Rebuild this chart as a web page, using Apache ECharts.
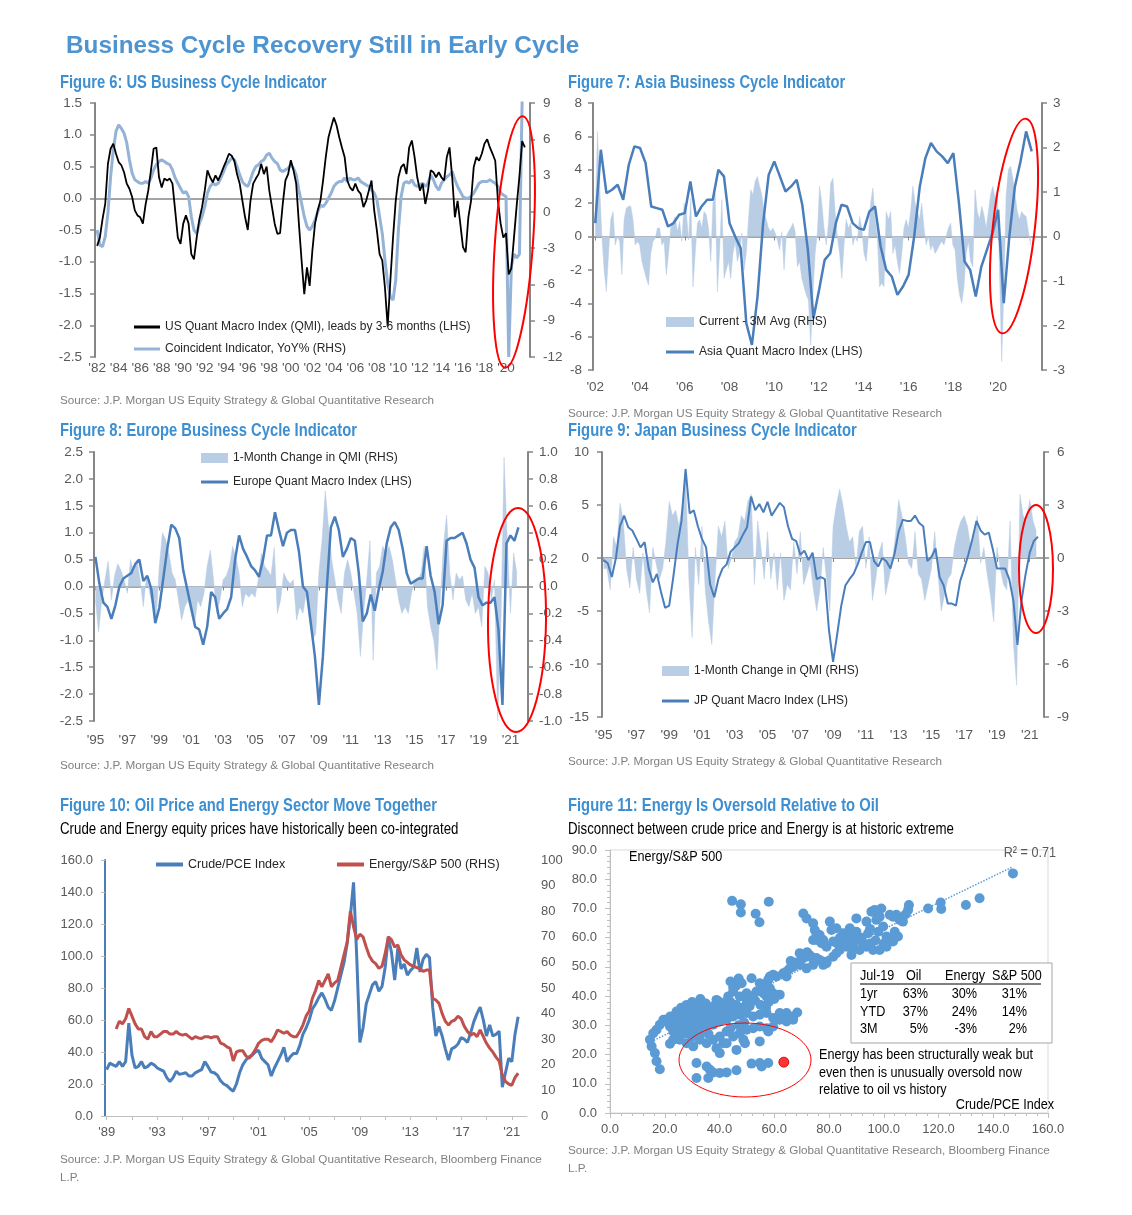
<!DOCTYPE html>
<html><head><meta charset="utf-8">
<script src="https://cdn.jsdelivr.net/npm/echarts/dist/echarts.min.js"></script>
<style>html,body{margin:0;padding:0;background:#fff}#c{width:1132px;height:1215px}</style>
</head><body><div id="c"></div>
<script>
// ---------------- DATA ----------------
// Figure 6 (quarterly from 1982.0)
const usQmi = [
-0.75,-0.62,-0.33,-0.09, 0.54,0.78,0.86,0.70, 0.57,0.52,0.41,0.23, 0.15,0.02,-0.19,-0.27,
-0.30,-0.40,-0.10,0.12, 0.44,0.78,0.80,0.33, 0.17,0.31,0.28,0.31, 0.23,-0.19,-0.62,-0.72,
-0.40,-0.27,-0.40,-0.88, -0.96,-0.62,-0.33,-0.14, 0.12,0.44,0.33,0.25, 0.36,0.28,0.38,0.49,
0.59,0.70,0.67,0.59, 0.38,0.23,-0.04,-0.30, -0.50,-0.04,0.23,0.31, 0.38,0.54,0.38,0.50,
0.12,-0.14,-0.40,-0.56, -0.55,-0.09,0.28,0.38, 0.60,0.44,0.23,-0.40, -0.98,-1.51,-1.09,-1.38,
-0.83,-0.40,-0.19,-0.04, 0.28,0.65,0.96,1.12, 1.27,1.15,0.96,0.80, 0.65,0.28,0.17,0.12,
0.23,0.12,0.07,-0.14, -0.04,0.12,0.28,-0.19, -0.51,-0.88,-0.98,-1.41, -2.02,-1.30,-0.62,-0.04,
0.33,0.49,0.54,0.38, 0.80,0.91,0.65,0.33, 0.12,0.23,-0.09,0.12, 0.44,0.41,0.33,0.41,
0.33,0.28,0.65,0.80, 0.33,-0.30,-0.04,-0.40, -0.77,-0.85,-0.30,-0.04, 0.49,0.65,0.59,0.70,
0.86,0.93,0.80,0.70, 0.59,-0.04,-0.40,-0.62, -0.55,-1.20,-1.10,-0.60, -0.10,0.35,0.90,0.80];
const usCoincident = [
-1.5,-2.74,-2.88,-2.05, -0.1,2.9,5.1,6.65, 7.2,6.9,6.5,5.7, 4.3,3.2,2.65,2.5,
2.37,2.37,2.5,2.37, 2.8,3.47,3.9,4.16, 4.3,4.16,4.0,3.9, 3.47,2.8,2.37,1.95,
1.55,1.68,1.26,-0.4, -1.5,-1.8,-0.95,-0.4, 0.43,1.55,2.1,2.37, 2.23,2.37,2.8,3.33,
3.9,4.16,4.44,4.3, 3.75,3.06,2.5,2.23, 2.1,2.65,3.33,3.75, 3.9,4.16,4.3,4.7,
4.85,4.44,4.16,4.0, 3.47,3.33,3.47,3.6, 3.9,3.6,3.06,1.8, 0.7,-0.4,-1.2,-1.5,
-1.2,-0.67,0.0,0.57, 0.43,0.7,1.12,1.55, 2.1,2.37,2.5,2.5, 2.8,2.5,2.8,2.65,
2.65,2.8,2.5,2.37, 2.23,2.1,1.8,1.55, 1.0,-0.4,-1.8,-4.0, -5.9,-7.0,-7.3,-5.65,
-1.5,1.26,2.37,2.5, 2.37,2.65,2.23,2.1, 2.23,2.37,2.1,2.37, 3.06,2.65,2.1,1.8,
2.37,2.65,2.9,3.06, 3.33,2.65,2.1,1.68, 1.26,1.12,1.12,1.26, 1.55,1.95,2.37,2.5,
2.5,2.5,2.65,2.5, 2.37,2.1,1.55,1.4, 1.26,-12.0,-4.5,-3.5, -3.8,-3.5,9.2];
const usTicks = [1982,1984,1986,1988,1990,1992,1994,1996,1998,2000,2002,2004,2006,2008,2010,2012,2014,2016,2018,2020];

// Figure 7 (line quarterly from 2002.0; fill ~every 0.1y from 2002.0 to 2021.45)
const asiaQmi = [
0.8,5.2,2.6,2.8, 3.1,2.2,4.3,5.4, 5.3,4.4,1.8,1.7, 1.6,0.6,0.8,1.3, 1.4,3.3,1.2,1.8,
2.2,2.2,4.0,3.6, 0.8,0.0,-0.7,-5.2, -6.5,-3.6,0.8,3.7, 4.5,3.6,2.7,3.0, 3.4,1.9,-0.8,-4.9,
-3.2,-1.4,-1.0,0.8, 1.9,1.8,0.8,0.5, 0.4,1.5,1.8,-0.6, -2.0,-2.4,-3.5,-3.0, -2.3,0.0,3.0,4.7,
5.6,5.1,4.8,4.4, 5.0,2.0,-1.5,-2.0, -3.6,-1.8,-0.8,0.2, 1.6,-4.0,0.0,3.0, 4.5,6.3,5.1];
const asiaChange = [
0.38,2.36,1.13,0,-0.75,-1.24,-0.38,0.38,0.56,-0.19,
0,-0.11,-0.86,0.38,0.64,0.68,0.68,0.38,-0.19,-0.11,
-0.19,-0.56,-0.75,-0.94,-1.09,-0.38,-0.11,-0.04,0.19,0.19,
-0.19,-0.11,-0.86,-0.38,0.19,0.34,0.45,0.11,0.34,-0.11,
0.75,0.56,-0.08,0.86,-1.13,-0.38,0.3,0.38,0.19,0.56,
0.49,0.19,-0.56,0.75,0.98,-1.24,-0.3,0.83,-0.94,-0.75,
-0.56,-0.94,-0.38,-0.11,-0.56,-0.38,0.08,-0.75,-0.38,0.38,
1.05,0.94,1.24,1.35,1.13,0.94,0.56,0.38,0.19,0.11,
0.19,0.08,-0.08,-0.3,0.11,-0.75,0,0.11,0.19,0.3,
0.11,-0.68,-0.56,-0.94,-1.13,-1.31,-1.43,-2.44,-1.31,-0.38,
0.08,1.13,0.75,0.19,-0.19,0.3,1.2,1.31,0.56,0,
-0.38,-0.94,-0.19,0.38,0.19,0.3,-0.19,0,-0.11,0.45,
0.19,-0.38,-0.56,0,0.75,1.09,0.38,0,-1.13,-1.05,
-1.13,0.56,0.38,0.56,-0.38,-0.19,-0.56,-0.83,-0.38,0.19,
0.38,0.19,0.56,1.13,0.75,0.56,0.38,0.75,0.19,-0.19,
0,-0.3,-0.19,-0.38,-0.3,-0.19,-0.11,-0.19,0,0.19,
0.3,-0.19,-0.3,-0.94,-1.31,-1.5,-1.13,-0.38,-0.11,-0.56,
-0.68,1.05,0.56,0.38,0.68,0.49,0.19,0.56,0.94,1.13,
0.86,1.05,-0.75,-2.81,-1.13,0.94,1.5,1.58,1.31,0.94,
0.56,0.38,0.56,0.49,0.45,0.11,-0.19];
const asiaTicks = [2002,2004,2006,2008,2010,2012,2014,2016,2018,2020];

// Figure 8 (line quarterly from 1995.0; fill every 0.2y from 1995.0)
const euQmi = [
0.55,0.05,-0.30,-0.38, -0.60,-0.35,0.00,0.15, 0.20,0.25,0.42,0.50, 0.10,0.20,-0.05,-0.68,
-0.40,0.15,0.70,1.15, 1.08,0.90,0.30,-0.05, -0.40,-0.75,-0.80,-1.08, -0.75,-0.10,-0.20,-0.60,
-0.50,-0.42,-0.20,0.50, 0.95,0.70,0.55,0.38, 0.30,0.18,0.50,0.95, 0.95,1.38,1.05,0.75,
1.00,1.05,1.05,0.65, 0.00,-0.10,-0.70,-1.30, -2.20,-1.30,0.00,1.10, 1.30,1.05,0.55,0.70,
0.90,0.85,0.25,-0.65, -0.50,-0.15,-0.45,-0.05, 0.28,0.80,1.10,1.20, 1.05,0.70,0.25,0.05,
0.10,0.15,0.15,0.75, 0.20,-0.10,-0.70,-0.35, 0.85,0.90,0.90,0.95, 1.00,0.80,0.50,0.35,
-0.20,-0.35,-0.30,-0.30, -0.20,-0.80,-2.20,0.80, 0.95,0.85,1.10];
const euChange = [
-0.1,-0.34,-0.1,0.05,0.19,-0.1,0.08,0.17,0.12,0.05,
-0.05,0.2,0.1,0.2,0.05,-0.15,0.08,-0.05,-0.15,-0.25,
0.15,0.4,0.35,0.25,0.1,0.05,-0.1,-0.25,-0.15,-0.1,
-0.2,-0.3,-0.1,-0.15,-0.05,0.15,0.27,0.05,-0.2,-0.1,
0.05,0.08,0.15,0.3,0.22,0.1,-0.15,-0.05,-0.08,-0.05,
-0.08,0.05,0.25,0.15,0.12,0.08,0.29,-0.2,-0.1,0.1,
0.05,0.02,0.05,-0.25,-0.15,-0.2,-0.05,-0.25,-0.4,-0.35,
0.1,0.35,0.71,0.45,0.2,0.05,-0.1,-0.2,0.1,0.2,
0.1,-0.05,-0.2,-0.52,-0.2,0.05,0.34,-0.55,0.1,0.15,
0.3,0.25,0.3,0.2,0.05,-0.1,-0.2,-0.15,-0.2,-0.05,
0.05,0.05,0.1,0.3,-0.15,-0.3,-0.4,-0.62,-0.1,0.3,
0.53,0.1,-0.1,0.1,0.05,0.08,-0.1,-0.15,-0.05,-0.2,
-0.15,-0.3,0.15,0.1,-0.1,0.05,-1.0,-0.3,0.96,0.35,
-0.2,0.25,0.1];
const euTicks = [1995,1997,1999,2001,2003,2005,2007,2009,2011,2013,2015,2017,2019,2021];

// Figure 9 (line quarterly from 1995.0; fill every 0.2y from 1995.0)
const jpQmi = [
-0.2,-0.5,-1.8,0.0, 3.0,4.0,2.9,2.6, 1.8,1.0,1.5,-1.0, -2.3,-1.5,-3.2,-4.7, -4.5,-1.8,1.2,3.5,
8.4,4.2,4.5,3.0, 1.8,1.0,-2.5,-3.7, -2.0,-1.0,-0.6,0.6, 1.0,1.4,2.2,2.9, 5.8,4.5,5.1,4.3,
5.3,4.0,4.6,5.2, 4.8,3.0,1.8,1.6, 0.3,0.7,-0.2,0.5, -2.0,-1.8,-2.0,-6.8, -9.8,-7.2,-4.5,-2.6,
-2.0,-1.5,-0.6,0.5, 1.5,1.5,-0.3,-0.8, 0.0,-0.3,-1.0,0.4, 2.5,3.6,3.5,3.5, 4.0,3.3,3.0,-0.3,
0.1,0.9,-1.8,-2.6, -4.3,-4.3,-4.5,-2.2, -1.0,0.3,1.8,3.5, 2.6,2.2,2.4,0.8, -1.0,-1.0,-1.0,-2.0,
-4.0,-8.2,-4.0,-1.5, 0.5,1.6,2.0];
const jpChange = [
-0.6,-0.6,-1.8,1.2,0.6,3.1,2.1,-0.6,-1.7,0.6,
-1.2,-2.0,0.3,-1.8,-3.1,0.6,-0.3,-1.2,-0.6,0.9,
3.2,2.4,2.7,1.8,3.0,4.8,-1.2,-4.5,0.6,-1.5,
1.8,-1.8,-3.6,-4.9,-1.2,1.8,1.2,2.1,-0.6,0,
0.9,1.2,2.4,2.1,3.2,3.6,-1.5,2.1,0.6,-1.2,
1.5,-1.2,0.3,-1.8,0.3,-2.4,-1.5,-1.8,0.9,-0.9,
1.5,-1.5,-0.9,-0.3,-1.8,-3.0,-1.8,0.6,-1.2,-3.0,
1.8,3.0,3.9,3.0,1.8,0.9,1.2,-0.6,1.5,1.8,
-0.6,1.2,-2.4,-1.2,0.3,0.9,-2.1,-1.2,-0.3,1.2,
3.3,2.4,1.2,-0.3,-0.6,1.5,-0.9,-1.2,-2.4,-1.5,
-0.6,1.5,-0.9,-3.0,-2.1,-1.2,-0.9,0.6,1.5,2.1,
2.4,1.8,0.6,1.2,2.4,-0.3,0.6,-0.9,-2.1,-3.6,
0.6,-0.6,-1.5,-1.8,2.1,-4.8,-7.2,3.6,2.4,2.1,
3.3,2.1,1.5];
const jpTicks = euTicks;

// Figure 10 (quarterly; crude from 1989.0, energy from 1989.75)
const crudePce = [
29,33,32,31, 34,31,34,58, 38,30,31,34, 30,31,33,32, 30,29,28,24, 21.5,24,28,26,
26.5,27,25,25, 27,28,29,34, 31,27.5,27,25.5, 22,20,19,17, 15.5,20,27,32, 35,37,38,40,
41,36,34,32, 25,30,34,38, 43,34,37,39, 39,44,51,55, 60,67,70,74, 77,73,68,66,
72,80,88,96, 108,125,146,100, 46,55,70,76, 82,84,78,81, 93,112,102,85, 105,92,95,88,
91,93,105,90, 98,101,99,68, 50,56,50,42, 35,42,43,45, 49,48,46,52, 59,64,68,60,
50,57,50,51, 53,18,27,36, 34,51,62];
const energySpx = [
34, 37,36,38,42, 39,36,34,34, 31,30,33,31, 31,32,33,33, 32,32,33,32, 31.6,32,31,30,
31,30.5,30.3,31, 31,30.5,31,31, 28.5,28,27,26.4, 21.5,25,25.5,25.5, 23.5,22.5,24,26,
28.4,29.5,30,30, 29,31,33.6,33, 32.3,33,31.6,31, 31,33,35.5,39, 41,46,49,53,
50.5,53,55.5,50.5, 52,53,58,63, 68,80,74,69, 71,70,66,62.5, 60.5,59.5,57.7,58.5,
63.5,70,68.8,66, 66.8,63,61,60, 59,58.5,58,57.5, 56.5,57,57,46, 45.3,44,40,37,
35.5,37,37.5,39, 38,35,33,31.6, 32.3,31,33.6,31, 28.4,26.5,25,23, 21.5,16,13.5,12.5,
12,15,16.7];
const oilLabelYears = [1989,1993,1997,2001,2005,2009,2013,2017,2021];
const oilTickYears = [1989,1991,1993,1995,1997,1999,2001,2003,2005,2007,2009,2011,2013,2015,2017,2019,2021];

// Figure 11 scatter [Crude/PCE, Energy/S&P 500]
const scatterPts = [
[44.6,72.6],[47.8,71.4],[47.8,68.6],[53.2,68.2],[54.6,65.3],[58.0,72.3],
[147.2,82.0],[135.0,73.5],[130.0,71.2],[120.8,72.0],[121.0,69.8],[116.2,70.0],[109.2,71.2],[108.9,69.5],[108.0,68.0],[107.0,65.5],
[70.6,68.3],[71.8,66.6],[74.2,64.9],[74.8,62.6],[75.4,61.5],[77.9,59.2],[80.3,65.5],[80.9,62.6],[82.7,63.2],[85.2,61.5],[86.4,59.2],[87.6,63.2],[88.8,60.4],[90.0,66.6],[91.2,59.2],[92.5,58.1],[93.7,65.5],[94.3,61.5],[95.5,68.9],[96.7,69.5],[97.3,66.1],[98.5,67.2],[99.1,70.0],[99.8,63.8],[101.0,60.4],[102.2,67.8],[103.4,67.2],[104.6,67.8],[105.8,66.1],[105.2,60.4],[103.4,58.7],[101.0,56.9],[98.5,55.8],[96.1,55.8],[93.7,56.9],[91.2,55.8],[88.8,56.9],[88.2,54.1],[86.4,56.9],[83.9,55.8],[81.5,58.7],[79.1,56.9],[77.3,58.1],[75.4,59.2],[74.2,59.2],[76.6,60.9],
[84,60],[86,58],[89,58.5],[92,60],[95,58],[97,59],[100,58],[102,59.5],[104,62],[98,62],[95,63],[90,62],[87,61],[83,58],
[69.3,54.7],[71.8,53.5],[74.2,53.0],[75.4,53.0],[76.6,52.4],[79.1,51.3],[81.5,53.5],[82.7,54.7],[79.1,51.8],[77.9,50.7],[74.2,50.7],[71.8,49.5],[69.3,50.7],[66.9,50.1],[65.7,49.5],[64.5,48.4],[64.5,46.7],[63.3,47.8],[60.8,46.7],[59.6,47.3],[58.4,46.7],[57.8,45.6],[57.2,44.4],[56.0,43.3],[54.7,42.1],[56.0,41.0],[57.2,39.9],[59.6,41.0],[60.8,40.4],[58.4,42.7],[54.7,44.4],[53.5,41.6],[51.7,46.1],[49.9,41.0],[48.1,44.4],[47.4,45.0],[46.2,44.4],[47.4,39.9],[45.0,41.6],[43.2,39.9],[42.6,38.2],[40.1,36.4],[38.9,38.7],[37.7,36.4],[36.5,35.3],[35.3,34.2],[34.1,37.6],[32.8,36.4],[31.6,35.3],[30.4,34.7],[29.8,36.4],[28.0,37.0],[26.8,34.2],[24.3,34.7],[23.1,33.0],[21.9,31.9],[20.7,31.3],[19.5,31.9],[18.2,30.2],[17.0,28.5],[15.8,27.3],[14.6,25.1],[15.2,22.8],[16.4,20.5],[17.0,17.7],[18.2,15.0],
[20.1,31.9],[21.9,29.6],[23.1,27.9],[24.3,26.2],[25.5,25.1],[28.0,27.3],[30.4,28.5],[32.8,29.6],[35.3,29.6],[37.7,30.2],[40.1,31.3],[42.6,31.9],[45.0,33.0],[47.4,33.6],[49.9,34.2],[52.3,33.0],[54.7,33.6],[57.2,34.2],[59.6,32.5],[62.0,34.2],[64.5,34.2],[66.9,33.0],[68.4,34.4],[66.9,31.9],[64.5,31.3],[62.0,31.9],[59.6,29.6],[57.2,29.0],[54.7,29.6],[52.3,29.0],[49.9,28.5],[47.4,27.3],[45.0,26.2],[42.6,27.9],[40.1,26.2],[37.7,25.1],[35.3,23.9],[32.8,25.1],[30.4,22.8],[28.0,23.9],[25.5,26.2],[23.1,25.1],[21.9,23.7],[38.9,22.2],[41.4,23.9],[42.6,23.9],[46.2,21.6],[48.7,25.1],[49.3,23.9],[54.7,24.5],[57.8,27.9],[40.1,20.5],[31.6,17.1],[35.3,15.9],[36.5,14.8],[37.7,13.9],[40.1,13.7],[42.6,13.9],[46.2,14.6],[35.9,12.0],[31.6,12.0],[51.7,16.9],[54.7,17.1],[55.4,15.9],[57.8,17.1],
[25,32],[27,33],[28,35],[29,31],[30,33],[31,32],[32,34],[33,36],[34,33],[35,35],[36,32],[37,34],[33,30],[31,29.5],[27,30],[26,36],[30,38],[33,39],[35,37.5],[38,33],[39,35],[41,33.5],[43,35],[45,36],[24,30],[22,33],[29,28],[36,30.5],[34,31],[32,37],[28,32],[26,34],[38,36.5],[40,38],[42,37],[44,38],[46,37],[48,36],[50,38],[52,40],[51,36.5],[53,38.5],[55,37],[58,38],[60,39],[62,40.5],[57,36],[49,31],[47,30],[44,29],[48,34],[36,27],[33,27],[30,26],[26,28],[23,29],[66,52],[68,51.5],[70,52.5],[72,55],[73,54],[45,43],[46,43.5],[47,46],[44,45]];
const currentPt = [[63.5, 17.4]];
const trendSlope = 0.453, trendIntercept = 17.6, trendXRange = [15, 147];

const tableRows = [
  ['Jul-19', 'Oil', 'Energy', 'S&P 500'],
  ['1yr', '63%', '30%', '31%'],
  ['YTD', '37%', '24%', '14%'],
  ['3M', '5%', '-3%', '2%']];

// ---------------- BUILD ----------------
const seq = (start, step, arr) => arr.map((v, i) => [start + i * step, v]);
const SANS = '"Liberation Sans", Arial, Helvetica, sans-serif';
const GRAY = '#868686', LBL = '#595959';
const yr = v => "'" + String(Math.round(v)).slice(2);
const f1 = v => (Math.abs(v) < 1e-9 ? 0 : v).toFixed(1);
const f0 = v => String(Math.round(v));
const NX = 0.82; // horizontal squeeze to imitate a narrow face

function yAx(grid, min, max, interval, pos, fmt, margin, extra) {
  return Object.assign({
    type: 'value', gridIndex: grid, position: pos, min, max, interval,
    axisLine: { show: true, onZero: false, lineStyle: { color: GRAY, width: 2 } },
    axisTick: { show: true, length: 5, lineStyle: { color: GRAY, width: 1.5 } },
    axisLabel: { color: LBL, fontSize: 13.5, fontFamily: SANS, margin, formatter: fmt },
    splitLine: { show: false }
  }, extra || {});
}
function xLab(grid, min, max, labels, margin) {
  return { type: 'value', gridIndex: grid, position: 'bottom', min, max,
    axisLine: { show: false, onZero: false }, axisTick: { show: false },
    axisLabel: { customValues: labels, formatter: yr, color: LBL, fontSize: 13.5, fontFamily: SANS, margin },
    splitLine: { show: false } };
}
function xZero(grid, min, max, ticks) {
  return { type: 'value', gridIndex: grid, position: 'bottom', min, max,
    axisLine: { show: true, onZero: true, lineStyle: { color: GRAY, width: 1.5 } },
    axisTick: ticks ? { show: true, customValues: ticks, length: 4, lineStyle: { color: GRAY, width: 1 } } : { show: false },
    axisLabel: { show: false }, splitLine: { show: false } };
}
function lg(name, left, top, w, h, fs) {
  return { data: [name], left, top, icon: 'rect', itemWidth: w, itemHeight: h, orient: 'vertical',
    padding: 0, selectedMode: false,
    textStyle: { fontFamily: SANS, fontSize: fs || 12, color: '#262626' } };
}
function txt(x, y, text, font, fill, align, sx) {
  return { type: 'text', x, y, z: 100, silent: true, scaleX: sx || 1,
    style: { text, font, fill: fill || '#000', textAlign: align || 'left', textVerticalAlign: 'middle', verticalAlign: 'middle' } };
}
function ell(cx, cy, rx, ry, rot, lw) {
  return { type: 'ellipse', x: cx, y: cy, rotation: rot, z: 100, silent: true,
    shape: { cx: 0, cy: 0, rx, ry }, style: { fill: 'none', stroke: '#ff0000', lineWidth: lw } };
}

const BLUE = '#4a7ebb', FILL = '#b9cde5';
const TITLE_FONT = 'bold 18px ' + SANS, TITLE_COL = '#3d8fd1';
const SRC_FONT = '11.7px ' + SANS, SRC_COL = '#808080';
const SUB_FONT = '16.2px ' + SANS;
const SRC = 'Source: J.P. Morgan US Equity Strategy & Global Quantitative Research';
const LAB2 = 13;

const asiaStep = 19.45 / (asiaChange.length - 1);

const option = {
  animation: false,
  backgroundColor: '#fff',
  textStyle: { fontFamily: SANS },
  grid: [
    { left: 95, top: 103, width: 435, height: 254 },
    { left: 593, top: 103, width: 449, height: 267 },
    { left: 94, top: 452, width: 434, height: 269 },
    { left: 602, top: 452, width: 442, height: 265 },
    { left: 105, top: 860, width: 422, height: 256 },
    { left: 610, top: 850, width: 438, height: 263, show: true, borderColor: '#d9d9d9', borderWidth: 1, backgroundColor: 'transparent' }
  ],
  xAxis: [
    xLab(0, 1981.8, 2022.23, usTicks, 4), xZero(0, 1981.8, 2022.23, null),
    xLab(1, 2001.9, 2021.96, asiaTicks, 10), xZero(1, 2001.9, 2021.96, asiaTicks),
    xLab(2, 1994.91, 2022.1, euTicks, 12), xZero(2, 1994.91, 2022.1, euTicks),
    xLab(3, 1994.9, 2021.87, jpTicks, 11), xZero(3, 1994.9, 2021.87, jpTicks),
    { type: 'value', gridIndex: 4, min: 1988.87, max: 2022.2,
      axisLine: { show: true, onZero: false, lineStyle: { color: '#bfbfbf', width: 1 } },
      axisTick: { show: true, customValues: oilTickYears, length: 4, lineStyle: { color: '#bfbfbf' } },
      axisLabel: { customValues: oilLabelYears, formatter: yr, color: LBL, fontSize: LAB2, fontFamily: SANS, margin: 10 },
      splitLine: { show: false } },
    { type: 'value', gridIndex: 5, min: 0, max: 160, interval: 20,
      axisLine: { show: true, onZero: false, lineStyle: { color: '#bfbfbf', width: 1 } },
      axisTick: { show: true, length: 5, lineStyle: { color: '#bfbfbf' } },
      minorTick: { show: true, splitNumber: 5, length: 3, lineStyle: { color: '#bfbfbf' } },
      axisLabel: { formatter: f1, color: LBL, fontSize: LAB2, fontFamily: SANS, margin: 10 },
      splitLine: { show: false }, minorSplitLine: { show: false } }
  ],
  yAxis: [
    yAx(0, -2.5, 1.5, 0.5, 'left', f1, 13), yAx(0, -12, 9, 3, 'right', f0, 13),
    yAx(1, -8, 8, 2, 'left', f0, 11), yAx(1, -3, 3, 1, 'right', f0, 11),
    yAx(2, -2.5, 2.5, 0.5, 'left', f1, 11), yAx(2, -1, 1, 0.2, 'right', f1, 11),
    yAx(3, -15, 10, 5, 'left', f0, 13), yAx(3, -9, 6, 3, 'right', f0, 13),
    yAx(4, 0, 160, 20, 'left', f1, 12, {
      axisLine: { show: true, onZero: false, lineStyle: { color: BLUE, width: 2 } },
      axisTick: { show: true, length: 4, lineStyle: { color: '#bfbfbf' } },
      axisLabel: { color: LBL, fontSize: LAB2, fontFamily: SANS, margin: 12, formatter: f1 } }),
    yAx(4, 0, 100, 10, 'right', f0, 14, {
      axisLine: { show: false }, axisTick: { show: false },
      axisLabel: { color: LBL, fontSize: LAB2, fontFamily: SANS, margin: 14, formatter: f0 } }),
    { type: 'value', gridIndex: 5, min: 0, max: 90, interval: 10, position: 'left',
      axisLine: { show: true, onZero: false, lineStyle: { color: '#bfbfbf', width: 1 } },
      axisTick: { show: true, length: 5, lineStyle: { color: '#bfbfbf' } },
      minorTick: { show: true, splitNumber: 5, length: 3, lineStyle: { color: '#bfbfbf' } },
      axisLabel: { formatter: f1, color: LBL, fontSize: LAB2, fontFamily: SANS, margin: 13 },
      splitLine: { show: false }, minorSplitLine: { show: false } }
  ],
  legend: [
    lg('US Quant Macro Index (QMI), leads by 3-6 months (LHS)', 134, 321, 26, 3),
    lg('Coincident Indicator, YoY% (RHS)', 134, 343, 26, 3),
    lg('Current - 3M Avg (RHS)', 666, 316, 28, 10),
    lg('Asia Quant Macro Index (LHS)', 666, 346, 28, 3),
    lg('1-Month Change in QMI (RHS)', 201, 452, 27, 10),
    lg('Europe Quant Macro Index (LHS)', 201, 476, 27, 3),
    lg('1-Month Change in QMI (RHS)', 662, 665, 27, 10),
    lg('JP Quant Macro Index (LHS)', 662, 695, 27, 3),
    lg('Crude/PCE Index', 156, 858, 27, 4, 12.5),
    lg('Energy/S&P 500 (RHS)', 337, 858, 27, 4, 12.5)
  ],
  series: [
    { name: 'Coincident Indicator, YoY% (RHS)', type: 'line', xAxisIndex: 0, yAxisIndex: 1,
      data: seq(1982, 0.25, usCoincident), showSymbol: false, color: '#95b3d7',
      lineStyle: { width: 3, color: '#95b3d7' }, z: 2 },
    { name: 'US Quant Macro Index (QMI), leads by 3-6 months (LHS)', type: 'line', xAxisIndex: 0, yAxisIndex: 0,
      data: seq(1982, 0.25, usQmi), showSymbol: false, color: '#000',
      lineStyle: { width: 1.8, color: '#000' }, z: 3 },

    { name: 'Current - 3M Avg (RHS)', type: 'line', xAxisIndex: 2, yAxisIndex: 3,
      data: seq(2002, asiaStep, asiaChange), showSymbol: false, color: FILL,
      lineStyle: { width: 0.5, color: FILL }, areaStyle: { color: FILL, opacity: 1 }, z: 2 },
    { name: 'Asia Quant Macro Index (LHS)', type: 'line', xAxisIndex: 2, yAxisIndex: 2,
      data: seq(2002, 0.25, asiaQmi), showSymbol: false, color: BLUE,
      lineStyle: { width: 2.5, color: BLUE }, z: 3 },

    { name: '1-Month Change in QMI (RHS)', type: 'line', xAxisIndex: 4, yAxisIndex: 5,
      data: seq(1995, 0.2, euChange), showSymbol: false, color: FILL,
      lineStyle: { width: 0.5, color: FILL }, areaStyle: { color: FILL, opacity: 1 }, z: 2 },
    { name: 'Europe Quant Macro Index (LHS)', type: 'line', xAxisIndex: 4, yAxisIndex: 4,
      data: seq(1995, 0.25, euQmi), showSymbol: false, color: BLUE,
      lineStyle: { width: 2.5, color: BLUE }, z: 3 },

    { name: '1-Month Change in QMI (RHS)', type: 'line', xAxisIndex: 6, yAxisIndex: 7,
      data: seq(1995, 0.2, jpChange), showSymbol: false, color: FILL,
      lineStyle: { width: 0.5, color: FILL }, areaStyle: { color: FILL, opacity: 1 }, z: 2 },
    { name: 'JP Quant Macro Index (LHS)', type: 'line', xAxisIndex: 6, yAxisIndex: 6,
      data: seq(1995, 0.25, jpQmi), showSymbol: false, color: BLUE,
      lineStyle: { width: 2, color: BLUE }, z: 3 },

    { name: 'Crude/PCE Index', type: 'line', xAxisIndex: 8, yAxisIndex: 8,
      data: seq(1989, 0.25, crudePce), showSymbol: false, color: BLUE,
      lineStyle: { width: 3, color: BLUE }, z: 2 },
    { name: 'Energy/S&P 500 (RHS)', type: 'line', xAxisIndex: 8, yAxisIndex: 9,
      data: seq(1989.75, 0.25, energySpx), showSymbol: false, color: '#c0504d',
      lineStyle: { width: 3, color: '#c0504d' }, z: 3 },

    { name: 'trend', type: 'line', xAxisIndex: 9, yAxisIndex: 10,
      data: trendXRange.map(x => [x, trendIntercept + trendSlope * x]), showSymbol: false,
      lineStyle: { width: 1.5, type: 'dotted', color: '#5b9bd5' }, z: 1, silent: true },
    { name: 'scatter', type: 'scatter', xAxisIndex: 9, yAxisIndex: 10, data: scatterPts,
      symbolSize: 10, itemStyle: { color: '#5b9bd5', opacity: 1 }, z: 2, silent: true },
    { name: 'current', type: 'scatter', xAxisIndex: 9, yAxisIndex: 10, data: currentPt,
      symbolSize: 10, itemStyle: { color: '#ff0000', borderColor: '#c00000', borderWidth: 1 }, z: 3, silent: true }
  ],
  graphic: { elements: [] }
};

const G = option.graphic.elements;
G.push(txt(66, 46, 'Business Cycle Recovery Still in Early Cycle', 'bold 24.3px ' + SANS, '#4d94d0'));
G.push(txt(60, 83, 'Figure 6: US Business Cycle Indicator', TITLE_FONT, TITLE_COL, 'left', NX));
G.push(txt(568, 83, 'Figure 7: Asia Business Cycle Indicator', TITLE_FONT, TITLE_COL, 'left', NX));
G.push(txt(60, 431, 'Figure 8: Europe Business Cycle Indicator', TITLE_FONT, TITLE_COL, 'left', NX));
G.push(txt(568, 431, 'Figure 9: Japan Business Cycle Indicator', TITLE_FONT, TITLE_COL, 'left', NX));
G.push(txt(60, 806, 'Figure 10: Oil Price and Energy Sector Move Together', TITLE_FONT, TITLE_COL, 'left', NX));
G.push(txt(568, 806, 'Figure 11: Energy Is Oversold Relative to Oil', TITLE_FONT, TITLE_COL, 'left', NX));
G.push(txt(60, 830, 'Crude and Energy equity prices have historically been co-integrated', SUB_FONT, '#000', 'left', NX));
G.push(txt(568, 830, 'Disconnect between crude price and Energy is at historic extreme', SUB_FONT, '#000', 'left', NX));
G.push(txt(60, 401, SRC, SRC_FONT, SRC_COL));
G.push(txt(568, 414, SRC, SRC_FONT, SRC_COL));
G.push(txt(60, 766, SRC, SRC_FONT, SRC_COL));
G.push(txt(568, 762, SRC, SRC_FONT, SRC_COL));
G.push(txt(60, 1160, SRC + ', Bloomberg Finance', SRC_FONT, SRC_COL));
G.push(txt(60, 1178, 'L.P.', SRC_FONT, SRC_COL));
G.push(txt(568, 1151, SRC + ', Bloomberg Finance', SRC_FONT, SRC_COL));
G.push(txt(568, 1169, 'L.P.', SRC_FONT, SRC_COL));
// annotation ellipses
G.push(ell(514, 242, 19, 126, -0.07, 2));
G.push(ell(1014, 226, 21, 108, -0.11, 2));
G.push(ell(517, 620, 29, 112, -0.01, 2));
G.push(ell(1036, 569, 17, 64, 0, 2));
G.push(ell(745, 1060, 66, 37, 0, 1));
// figure 11 labels & table
const F11 = '15.4px ' + SANS;
G.push(txt(629, 857, 'Energy/S&P 500', F11, '#000', 'left', NX));
G.push(txt(1056, 853, 'R² = 0.71', F11, '#595959', 'right', NX));
G.push(txt(1054, 1105, 'Crude/PCE Index', F11, '#000', 'right', NX));
G.push({ type: 'rect', z: 90, silent: true, shape: { x: 851, y: 963, width: 201, height: 80 },
  style: { fill: '#fff', stroke: '#a6a6a6', lineWidth: 1 } });
G.push({ type: 'line', z: 101, silent: true, shape: { x1: 860, y1: 984, x2: 1041, y2: 984 },
  style: { stroke: '#000', lineWidth: 1 } });
const rowY = [976, 994, 1011.5, 1029];
tableRows.forEach((r, i) => {
  if (i === 0) {
    G.push(txt(860, rowY[0], r[0], F11, '#000', 'left', NX));
    G.push(txt(906, rowY[0], r[1], F11, '#000', 'left', NX));
    G.push(txt(945, rowY[0], r[2], F11, '#000', 'left', NX));
    G.push(txt(992, rowY[0], r[3], F11, '#000', 'left', NX));
  } else {
    G.push(txt(860, rowY[i], r[0], F11, '#000', 'left', NX));
    G.push(txt(928, rowY[i], r[1], F11, '#000', 'right', NX));
    G.push(txt(977, rowY[i], r[2], F11, '#000', 'right', NX));
    G.push(txt(1027, rowY[i], r[3], F11, '#000', 'right', NX));
  }
});
G.push(txt(819, 1055, 'Energy has been structurally weak but', F11, '#000', 'left', NX));
G.push(txt(819, 1072.5, 'even then is unusually oversold now', F11, '#000', 'left', NX));
G.push(txt(819, 1090, 'relative to oil vs history', F11, '#000', 'left', NX));

const chart = echarts.init(document.getElementById('c'), null, { renderer: 'canvas' });
chart.setOption(option);
</script></body></html>
